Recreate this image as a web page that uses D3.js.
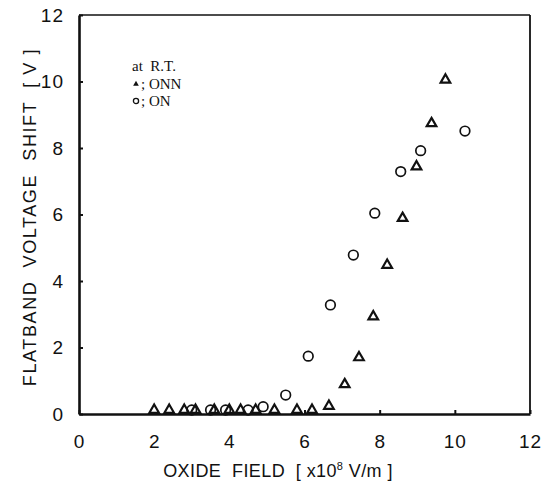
<!DOCTYPE html>
<html>
<head>
<meta charset="utf-8">
<script src="https://cdn.jsdelivr.net/npm/d3@7"></script>
<style>
	body { margin: 0; background: #fff; }
	text { white-space: pre; }
	.tick text { font-family: "Liberation Sans", Arial, sans-serif; font-size: 19px; letter-spacing: 1px; fill: #111; }
	.axis-title { font-family: "Liberation Sans", Arial, sans-serif; font-size: 18px; fill: #111; }
	.legend { font-family: "Liberation Serif", "Times New Roman", serif; font-size: 15px; fill: #111; }
</style>
</head>
<body>
<div id="chartDiv"></div>
<script>
// ONN (triangles)
var onnX = [2.0, 2.4, 2.8, 3.1, 3.6, 4.0, 4.3, 4.7, 5.2, 5.8, 6.2, 6.65, 7.07, 7.45, 7.83, 8.2, 8.61, 8.98, 9.38, 9.75];
var onnY = [0, 0, 0, 0, 0, 0, 0, 0, 0, 0, 0, 0.12, 0.89, 1.7, 2.93, 4.48, 5.89, 7.44, 8.74, 10.05];
// ON (circles)
var onX = [3.0, 3.5, 3.9, 4.5, 4.9, 5.5, 6.1, 6.69, 7.3, 7.87, 8.56, 9.09, 10.27];
var onY = [0, 0, 0, 0, 0.1, 0.57, 1.74, 3.28, 4.78, 6.04, 7.29, 7.92, 8.51];

var xTicks = [0, 2, 4, 6, 8, 10, 12];
var yTicks = [0, 2, 4, 6, 8, 10, 12];

;(function() {

	var margin = { top: 15, right: 26, bottom: 82, left: 79 };
	var width = 556;
	var height = 496;
	var chart, chartWidth, chartHeight;

	init();

	function init() {
		chartWidth = width - margin.left - margin.right;
		chartHeight = height - margin.top - margin.bottom;
		chart = d3.select("#chartDiv").append("svg")
			.attr("width", width)
			.attr("height", height);
		chart.plotArea = chart.append("g")
			.attr("transform", "translate(" + margin.left + "," + margin.top + ")");
		createAxes();
		drawDots();
		drawLegend();
	}

	function createAxes() {
		chart.xScale = d3.scaleLinear().domain([0, 12]).range([0, chartWidth]);
		chart.yScale = d3.scaleLinear().domain([0, 12]).range([chartHeight, 0]);

		// frame, thicker on left and bottom
		var p = chart.plotArea;
		p.append("line").attr("x1", 0).attr("x2", chartWidth).attr("y1", 0).attr("y2", 0)
			.attr("stroke", "#111").attr("stroke-width", 1.5);
		p.append("line").attr("x1", chartWidth).attr("x2", chartWidth).attr("y1", 0).attr("y2", chartHeight)
			.attr("stroke", "#111").attr("stroke-width", 1.8);

		chart.xAxis = d3.axisBottom(chart.xScale)
			.tickValues(xTicks)
			.tickSizeInner(-4)
			.tickSizeOuter(0)
			.tickPadding(21);
		chart.xAxisContainer = p.append("g")
			.attr("transform", "translate(0," + chartHeight + ")")
			.call(chart.xAxis);

		chart.yAxis = d3.axisLeft(chart.yScale)
			.tickValues(yTicks)
			.tickSizeInner(-4)
			.tickSizeOuter(0)
			.tickPadding(15);
		chart.yAxisContainer = p.append("g").call(chart.yAxis);

		[chart.xAxisContainer, chart.yAxisContainer].forEach(function(g) {
			g.select(".domain").attr("stroke", "#111").attr("stroke-width", 2.6);
			g.selectAll(".tick line").attr("stroke", "#111").attr("stroke-width", 2);
		});

		// x axis header label
		var xt = chart.append("text")
			.attr("class", "axis-title")
			.attr("text-anchor", "middle")
			.style("letter-spacing", "0.4px")
			.attr("x", 278)
			.attr("y", 477);
		xt.append("tspan").text("OXIDE  FIELD  [ x10");
		xt.append("tspan").attr("dy", -7).style("font-size", "11px").text("8");
		xt.append("tspan").attr("dy", 7).text(" V/m ]");

		// y axis header label
		chart.append("text")
			.attr("class", "axis-title")
			.attr("text-anchor", "middle")
			.style("letter-spacing", "1.6px")
			.attr("transform", "translate(36," + 217 + ") rotate(-90)")
			.text("FLATBAND  VOLTAGE  SHIFT  [ V ]");
	}

	function drawDots() {
		var onn = onnX.map(function(x, i) { return { x: x, y: onnY[i] }; });
		var on = onX.map(function(x, i) { return { x: x, y: onY[i] }; });
		var tri = d3.symbol().type(d3.symbolTriangle).size(40);

		// points lying on the axis sit just above the line
		function lift(d) { return d.y < 0.2 ? 4 : 0; }

		chart.plotArea.selectAll(".tri")
			.data(onn)
			.enter().append("path")
			.attr("class", "tri")
			.attr("d", tri)
			.attr("transform", function(d) { return "translate(" + chart.xScale(d.x) + "," + (chart.yScale(d.y) - lift(d)) + ")"; })
			.attr("fill", "#fff")
			.attr("stroke", "#111")
			.attr("stroke-width", 2.2);

		chart.plotArea.selectAll(".dot")
			.data(on)
			.enter().append("circle")
			.attr("class", "dot")
			.attr("cx", function(d) { return chart.xScale(d.x); })
			.attr("cy", function(d) { return chart.yScale(d.y) - lift(d); })
			.attr("r", 4.8)
			.attr("fill", "none")
			.attr("stroke", "#111")
			.attr("stroke-width", 1.7);
	}

	function drawLegend() {
		var g = chart.append("g").attr("transform", "translate(132,0)");
		g.append("text").attr("class", "legend").attr("x", 0).attr("y", 71).text("at  R.T.");
		g.append("path").attr("d", d3.symbol().type(d3.symbolTriangle).size(14))
			.attr("transform", "translate(4,84)").attr("fill", "#111");
		g.append("text").attr("class", "legend").attr("x", 9).attr("y", 89).text("; ONN");
		g.append("circle").attr("cx", 4).attr("cy", 101).attr("r", 2.6)
			.attr("fill", "none").attr("stroke", "#111").attr("stroke-width", 1.3);
		g.append("text").attr("class", "legend").attr("x", 9).attr("y", 106).text("; ON");
	}

})();
</script>
</body>
</html>
